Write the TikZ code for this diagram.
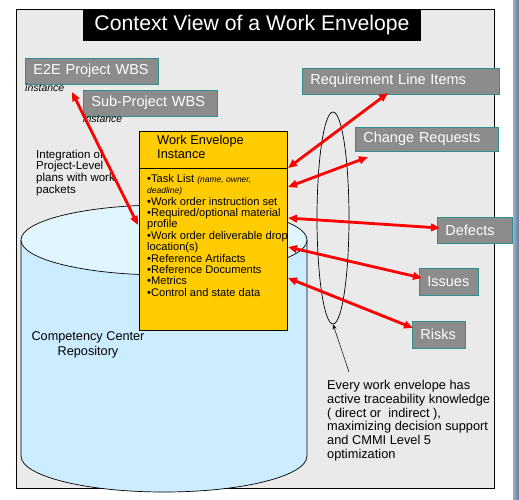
\documentclass[tikz,border=0pt]{standalone}
\usepackage{fontspec}
\setmainfont{Liberation Sans}
\usetikzlibrary{arrows.meta,shapes.geometric,calc}
\definecolor{panel}{RGB}{234,234,234}
\definecolor{boxgray}{RGB}{140,140,140}
\definecolor{boxteal}{RGB}{47,143,143}
\definecolor{cylbody}{RGB}{204,236,255}
\definecolor{cyltop}{RGB}{225,245,255}
\definecolor{wey}{RGB}{255,204,0}
\definecolor{stripL}{RGB}{160,176,200}
\definecolor{stripR}{RGB}{95,120,152}
\begin{document}
\begin{tikzpicture}[x=1pt,y=-1pt,
  gbox/.style={draw=boxteal, line width=0.8pt, fill=boxgray, text=white,
    font=\fontsize{14.5}{16}\selectfont, inner xsep=8pt, inner ysep=0pt,
    align=left, anchor=west},
  redarr/.style={draw=red, line width=2.8pt,
    {Triangle[length=9pt,width=7.5pt]}-{Triangle[length=9pt,width=7.5pt]}},
  plain/.style={anchor=north west, align=left, inner sep=0pt},
  inst/.style={anchor=north west, inner sep=0pt, font=\itshape\fontsize{10.5}{11}\selectfont}
]
\useasboundingbox (0,0) rectangle (519,500);
\fill[white] (0,0) rectangle (519,500);
% right strip
\shade[left color=stripL, right color=stripR] (513,0) rectangle (519,500);
% panel
\draw[fill=panel, line width=0.7pt] (16,9) rectangle (494,488);
% title
\node[fill=black, text=white, minimum width=338pt, minimum height=32pt, inner sep=0pt,
  font=\fontsize{21.2}{24}\selectfont] (title) at (252,25) {Context View of a Work Envelope};
% cylinder
\fill[cylbody] (21,240) rectangle (307,456);
\fill[cylbody] (164,456) ellipse [x radius=143, y radius=36];
\draw[line width=0.7pt] (21,240) -- (21,456) arc[start angle=180, end angle=0, x radius=143, y radius=36] -- (307,240);
\draw[line width=0.7pt, fill=cyltop] (164,240) ellipse [x radius=143, y radius=35];
\node[align=center, font=\fontsize{12.7}{15}\selectfont, inner sep=0pt] (ccr) at (88,345) {Competency Center\\Repository};
% work envelope
\node[draw, fill=wey, minimum width=148pt, minimum height=199pt, inner sep=0pt, line width=0.7pt] (we) at (213,230.5) {};
\draw[line width=0.7pt] ($(we.north west)+(0,38)$) -- ($(we.north east)+(0,38)$);
\node[plain, font=\fontsize{12.8}{14}\selectfont] (wetitle) at (157,135.5) {Work Envelope\\Instance};
\node[plain, font=\fontsize{11.1}{11.4}\selectfont] (welist) at (147,174) {%
•Task List {\itshape\fontsize{8.5}{11.4}\selectfont (name, owner,}\\
{\itshape\fontsize{8.5}{11.4}\selectfont deadline)}\\
•Work order instruction set\\
•Required/optional material\\
profile\\
•Work order deliverable drop\\
location(s)\\
•Reference Artifacts\\
•Reference Documents\\
•Metrics\\
•Control and state data};
% integration text
\node[plain, font=\fontsize{11.5}{11.8}\selectfont] (integ) at (36,149.5) {Integration of\\Project-Level\\plans with work\\packets};
% traceability ellipse
\node[draw, ellipse, minimum width=32pt, minimum height=212pt, inner sep=0pt, line width=0.7pt] (trace) at (333,218) {};
% gray boxes
\node[gbox, text width=117pt, minimum height=26pt] (e2e) at (25,71) {E2E Project WBS};
\node[gbox, text width=118pt, minimum height=26pt] (sub) at (83,103) {Sub-Project WBS};
\node[gbox, text width=181pt, minimum height=26pt] (req) at (302,81) {Requirement Line Items};
\node[gbox, text width=127pt, minimum height=24pt] (chg) at (355,139) {Change Requests};
\node[gbox, text width=59pt, minimum height=26pt] (def) at (437,230) {Defects};
\node[gbox, text width=43pt, minimum height=27pt] (iss) at (419,281.5) {Issues};
\node[gbox, text width=37pt, minimum height=27pt] (rsk) at (412,334.5) {Risks};
\node[inst] (inst1) at (25,84) {instance};
\node[inst] (inst2) at (83,115) {instance};
% arrow end points
\coordinate (e2eEnd) at (72,92);
\coordinate (weA) at (138,225);
\coordinate (reqEnd) at (388,93);
\coordinate (weB) at (288,168);
\coordinate (chgEnd) at (368,157);
\coordinate (weC) at (288,187);
\coordinate (weD) at (288,218);
\coordinate (defEnd) at (440,228);
\coordinate (weE) at (288,247);
\coordinate (issEnd) at (422,278);
\coordinate (weF) at (288,278);
\coordinate (rskEnd) at (413,328);
\draw[redarr] (e2eEnd) -- (weA);
\draw[redarr] (reqEnd) -- (weB);
\draw[redarr] (chgEnd) -- (weC);
\draw[redarr] (weD) -- (defEnd);
\draw[redarr] (weE) -- (issEnd);
\draw[redarr] (weF) -- (rskEnd);
% note
\node[plain, font=\fontsize{12.8}{13.8}\selectfont] (note) at (327,380) {Every work envelope has\\active traceability knowledge\\( direct or~ indirect ),\\maximizing decision support\\and CMMI Level 5\\optimization};
\coordinate (noteTip) at (349,372);
\draw[line width=0.5pt, -{Stealth[length=5pt,width=4pt]}] (noteTip) -- (trace.south);
\end{tikzpicture}
\end{document}
